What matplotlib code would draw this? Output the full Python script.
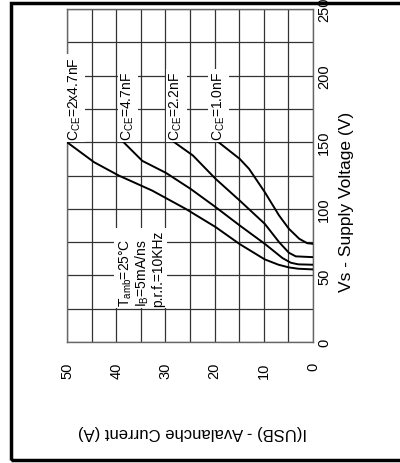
import matplotlib
matplotlib.use("Agg")
import matplotlib.pyplot as plt
from matplotlib.patches import Rectangle
from matplotlib.ticker import MultipleLocator

plt.rcParams['font.family'] = ['Liberation Sans', 'DejaVu Sans']
plt.rcParams['mathtext.fontset'] = 'custom'
plt.rcParams['mathtext.rm'] = 'Liberation Sans'

# Avalanche current (A) vs supply voltage (V), one curve per CCE
labels = [r"C$_{\rm CE}$=2x4.7nF", r"C$_{\rm CE}$=4.7nF",
          r"C$_{\rm CE}$=2.2nF", r"C$_{\rm CE}$=1.0nF"]
current_a = [50, 44.5, 39.5, 32.7, 25.9, 19.8, 14.9, 9.8, 7.0, 4.9, 3.0, 0]
volt_a = [150, 135, 125, 113.7, 100, 86.3, 73.5, 62, 58, 56, 55, 54.5]
current_b = [38.5, 34.7, 29.9, 24.9, 19.8, 14.9, 9.8, 6.2, 4.5, 3.0, 0]
volt_b = [150, 136, 127, 115, 101.3, 87.5, 73.7, 63, 59.5, 58.3, 58]
current_c = [28.2, 24.4, 19.8, 14.9, 9.8, 6.9, 4.9, 3.5, 0]
volt_c = [150, 140, 122.5, 106.2, 88.7, 75, 67, 64.3, 63.7]
current_d = [19.2, 14.9, 13, 9.8, 6.9, 4.9, 2.8, 1.2, 0]
volt_d = [150, 137.5, 130, 112.5, 95, 85, 77.5, 74.2, 73.7]
label_pos = [48.4, 37.6, 27.8, 19.2]   # current where each label sits

conditions = "T$_{\\rm amb}$=25°C\nI$_{\\rm B}$=5mA/ns\np.r.f.=10KHz"

narrow = ['Liberation Sans Narrow', 'Liberation Sans', 'DejaVu Sans']

fig = plt.figure(figsize=(4.0, 4.64), dpi=100)
ax = fig.add_axes([67 / 400, 121 / 464, 246 / 400, 333 / 464])

curves = [(current_a, volt_a), (current_b, volt_b),
          (current_c, volt_c), (current_d, volt_d)]
for (cur, volt) in curves:
    ax.plot(cur, volt, color='black', lw=1.4, zorder=3)

for lab, x in zip(labels, label_pos):
    ax.text(x, 151.5, lab, rotation=90, ha='center', va='bottom', fontsize=10,
            zorder=4, bbox=dict(facecolor='white', edgecolor='none', pad=1.5))

ax.text(34.9, 27, conditions, rotation=90, ha='center', va='bottom',
        multialignment='left', fontsize=10, linespacing=1.0, zorder=4,
        bbox=dict(facecolor='white', edgecolor='none', pad=1.5))

ax.set_xlim(50, 0)
ax.set_ylim(0, 250)
ax.xaxis.set_major_locator(MultipleLocator(10))
ax.xaxis.set_minor_locator(MultipleLocator(5))
ax.yaxis.set_major_locator(MultipleLocator(50))
ax.yaxis.set_minor_locator(MultipleLocator(25))
ax.grid(which='both', color='#333333', lw=0.9, zorder=1)
ax.set_axisbelow(True)
for s in ax.spines.values():
    s.set_color('#666666')
    s.set_linewidth(1.0)

ax.yaxis.tick_right()
ax.tick_params(which='both', length=0)
ax.tick_params(axis='x', pad=14, labelsize=10.5, labelrotation=90)
ax.tick_params(axis='y', pad=3, labelsize=10.5, labelrotation=90)
for t in ax.get_xticklabels() + ax.get_yticklabels():
    t.set_family(narrow)
for t in ax.get_yticklabels():
    t.set_va('center')

ax.yaxis.set_label_position('right')
ax.set_ylabel("Vs - Supply Voltage (V)", fontsize=12.5)
ax.yaxis.set_label_coords(1.105, 0.425)
ax.set_xlabel("I(USB) - Avalanche Current (A)", fontsize=12, rotation=180)
ax.xaxis.set_label_coords(0.51, -0.245)

# outer frame of the datasheet figure
fig.patches.append(Rectangle((10.5 / 400, 3.5 / 464), 1.2, 457 / 464,
                             transform=fig.transFigure, fill=False,
                             edgecolor='black', lw=2.5, clip_on=False))

plt.savefig("out.png", dpi=100)
